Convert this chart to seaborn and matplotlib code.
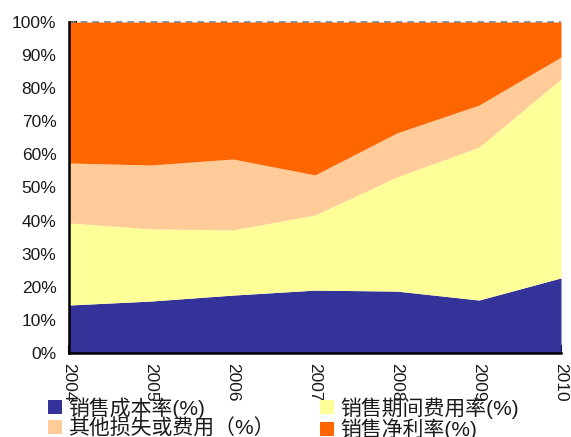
import matplotlib
matplotlib.use("Agg")
import matplotlib.pyplot as plt
import seaborn as sns
import pandas as pd
from matplotlib.patches import Patch

years = [2004, 2005, 2006, 2007, 2008, 2009, 2010]
cost_rate = [14.5, 15.7, 17.5, 19.0, 18.7, 16.0, 22.7]
period_expense_rate = [24.8, 21.8, 19.7, 22.7, 34.5, 46.2, 60.1]
other_loss = [18.1, 19.3, 21.4, 12.1, 13.3, 12.7, 6.6]
net_margin = [42.6, 43.2, 41.4, 46.2, 33.5, 25.1, 10.6]

series_names = ["销售成本率(%)", "销售期间费用率(%)", "其他损失或费用（%）", "销售净利率(%)"]
colors = ["#333399", "#FFFF99", "#FFCC99", "#FF6600"]

df = pd.DataFrame({
    "year": years,
    series_names[0]: cost_rate,
    series_names[1]: period_expense_rate,
    series_names[2]: other_loss,
    series_names[3]: net_margin,
})

sns.set_theme(style="white")
plt.rcParams["font.family"] = ["Liberation Sans", "Noto Sans CJK SC"]

fig = plt.figure(figsize=(5.71, 4.37), dpi=100)
ax = fig.add_axes([0.1208, 0.1922, 0.8617, 0.7575])

ax.stackplot(df["year"], *[df[n] for n in series_names], colors=colors,
             linewidth=0, zorder=1)

ax.set_xlim(years[0], years[-1])
ax.set_ylim(0, 100)
ax.set_yticks(range(0, 101, 10))
ax.set_yticklabels([f"{v}%" for v in range(0, 101, 10)])
ax.set_xticks(years)
ax.set_xticklabels([str(y) for y in years], rotation=-90, va="top", ha="center")

ax.axhline(100, color="#808080", linestyle=(0, (4, 3)), linewidth=1.2, zorder=3, clip_on=False)

for side in ["top", "right"]:
    ax.spines[side].set_visible(False)
for side in ["left", "bottom"]:
    ax.spines[side].set_color("black")
    ax.spines[side].set_linewidth(1.8)
    ax.spines[side].set_zorder(4)

ax.tick_params(axis="both", direction="in", length=6, width=1.5, color="black",
               labelsize=12.5, labelcolor="#1a1a1a")
ax.tick_params(axis="y", pad=9, left=True)
ax.tick_params(axis="x", pad=7, bottom=True)

order = [0, 2, 1, 3]
handles = [Patch(facecolor=colors[i], edgecolor="none") for i in order]
labels = [series_names[i] for i in order]
fig.legend(handles, labels, ncol=2, loc="upper left",
           bbox_to_anchor=(48 / 571, 1 - 397 / 437), frameon=False,
           prop={"size": 15, "weight": "light"},
           handlelength=0.65, handleheight=0.65, handletextpad=0.3,
           columnspacing=2.2, labelspacing=0.0, borderpad=0, borderaxespad=0,
           labelcolor="#1a1a1a")

fig.savefig("out.png", dpi=100)
